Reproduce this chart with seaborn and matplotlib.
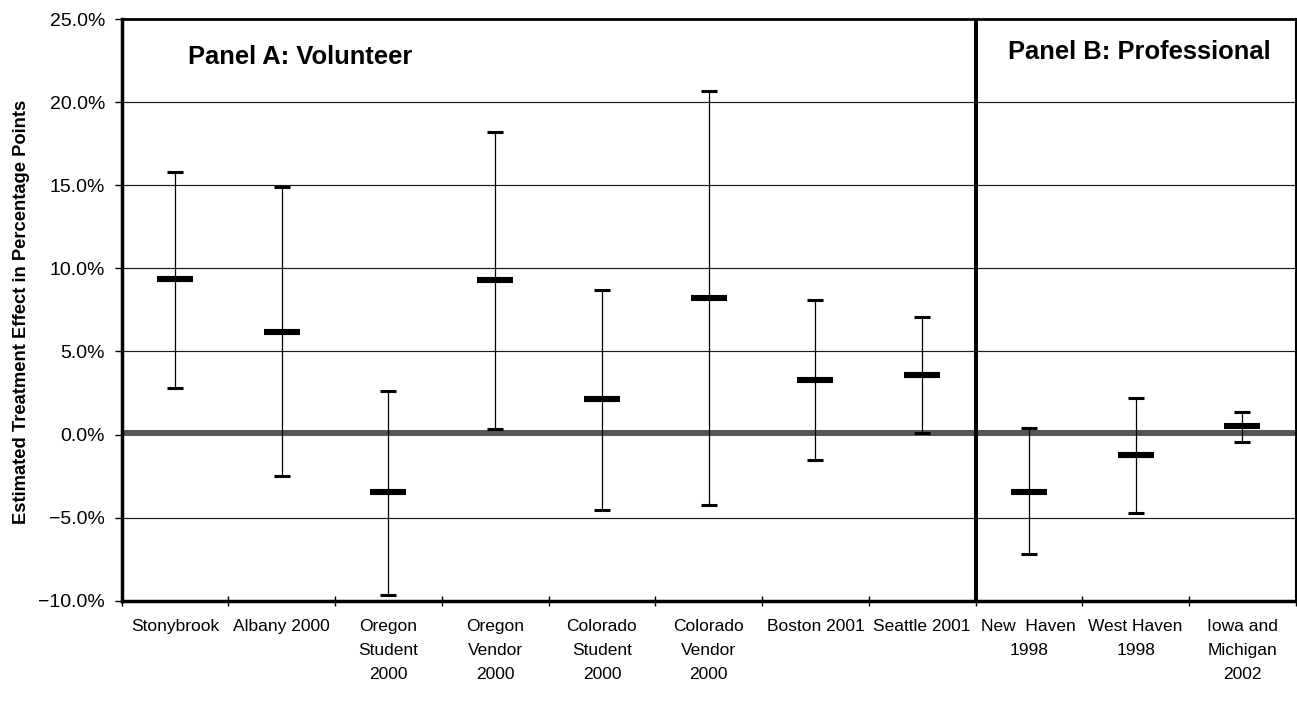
import numpy as np
import pandas as pd
import matplotlib
matplotlib.use("Agg")
import matplotlib.pyplot as plt
import seaborn as sns
from matplotlib.ticker import FixedLocator, FuncFormatter

# Study sites and estimated treatment effects (percentage points)
sites = [
    "Stonybrook", "Albany 2000", "Oregon\nStudent\n2000", "Oregon\nVendor\n2000",
    "Colorado\nStudent\n2000", "Colorado\nVendor\n2000", "Boston 2001", "Seattle 2001",
    "New  Haven\n1998", "West Haven\n1998", "Iowa and\nMichigan\n2002",
]
estimate = [9.37, 6.19, -3.48, 9.29, 2.12, 8.22, 3.28, 3.58, -3.46, -1.23, 0.51]
ci_low = [2.82, -2.50, -9.65, 0.33, -4.53, -4.23, -1.54, 0.10, -7.22, -4.71, -0.47]
ci_high = [15.83, 14.89, 2.62, 18.24, 8.70, 20.67, 8.12, 7.06, 0.41, 2.22, 1.37]
group = ["Volunteer"] * 8 + ["Professional"] * 3

y_ticks = [-10, -5, 0, 5, 10, 15, 20, 25]

df = pd.DataFrame({
    "site": sites,
    "pos": np.arange(len(sites)),
    "estimate": estimate,
    "low": ci_low,
    "high": ci_high,
    "group": group,
})

sns.set_theme(style="white")
plt.rcParams["font.family"] = ["Liberation Sans", "DejaVu Sans"]
plt.rcParams["axes.unicode_minus"] = True
plt.rcParams["text.color"] = "black"
plt.rcParams["axes.labelcolor"] = "black"
plt.rcParams["xtick.color"] = "black"
plt.rcParams["ytick.color"] = "black"
plt.rcParams["xtick.labelcolor"] = "black"
plt.rcParams["ytick.labelcolor"] = "black"

fig = plt.figure(figsize=(12.97, 7.11), dpi=100)
ax = fig.add_axes([0.0938, 0.1554, 0.9052, 0.8172])

# horizontal gridlines
for v in y_ticks[1:-1]:
    if v != 0:
        ax.axhline(v, color="#1a1a1a", lw=0.85, zorder=1)

# zero reference line
ax.axhline(0.12, color="#555555", lw=4.3, zorder=2)

# confidence intervals with caps
err = np.vstack([df["estimate"] - df["low"], df["high"] - df["estimate"]])
ax.errorbar(df["pos"], df["estimate"], yerr=err, fmt="none", ecolor="black",
            elinewidth=0.9, capsize=6.1, capthick=2.2, zorder=3)

# point estimates drawn as thick horizontal dashes
sns.scatterplot(data=df, x="pos", y="estimate", marker="_", s=26 ** 2,
                linewidth=4.4, color="black", edgecolor="black",
                legend=False, ax=ax, zorder=4)

# divider between the two panels
ax.axvline(7.5, color="black", lw=2.9, zorder=5)

ax.text(0.12, 22.74, "Panel A: Volunteer", fontsize=18.4, fontweight="bold",
        ha="left", va="center", color="black")
ax.text(7.80, 23.04, "Panel B: Professional", fontsize=18.4, fontweight="bold",
        ha="left", va="center", color="black")

ax.set_xlim(-0.5, len(sites) - 0.5)
ax.set_ylim(-10, 25)

ax.yaxis.set_major_locator(FixedLocator(y_ticks))
ax.yaxis.set_major_formatter(FuncFormatter(lambda v, p: f"{v:.1f}%".replace("-", "\u2212")))
ax.tick_params(axis="y", which="major", direction="out", length=5, width=1,
               color="black", labelcolor="black", labelsize=14, pad=7, left=True)

ax.xaxis.set_major_locator(FixedLocator(np.arange(-0.5, len(sites), 1.0)))
ax.xaxis.set_major_formatter(FuncFormatter(lambda v, p: ""))
ax.tick_params(axis="x", which="major", direction="inout", length=7, width=1,
               color="black", bottom=True)
ax.tick_params(axis="x", which="minor", length=0, labelsize=12.5, pad=13,
               labelcolor="black")
ax.set_xticks(df["pos"], labels=sites, minor=True, linespacing=1.75)

ax.set_xlabel("")
ax.set_ylabel("Estimated Treatment Effect in Percentage Points", fontsize=13.2,
              fontweight="bold", color="black")
ax.yaxis.set_label_coords(-0.078, 0.497)

for side, lw in [("left", 2.5), ("bottom", 2.5), ("top", 2.0), ("right", 2.2)]:
    ax.spines[side].set_visible(True)
    ax.spines[side].set_color("black")
    ax.spines[side].set_linewidth(lw)
    ax.spines[side].set_zorder(6)

fig.savefig("out.png", dpi=100, facecolor="white")
